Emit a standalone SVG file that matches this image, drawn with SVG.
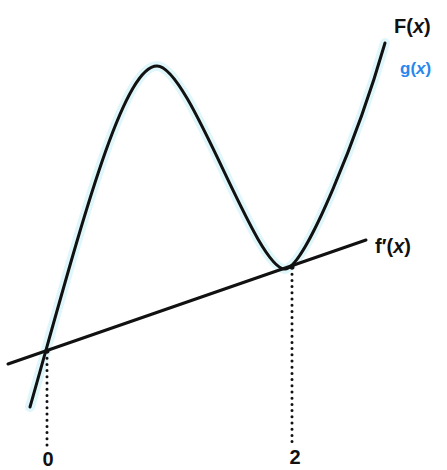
<svg xmlns="http://www.w3.org/2000/svg" width="447" height="470" viewBox="0 0 447 470">
<style>
.halo{fill:none;stroke:#d4f3fa;stroke-width:10;stroke-linecap:round;stroke-linejoin:round;opacity:0.75}
.curve{fill:none;stroke:#111;stroke-width:3;stroke-linecap:round;stroke-linejoin:round}
.line{fill:none;stroke:#111;stroke-width:3;stroke-linecap:round}
.dots{fill:none;stroke:#111;stroke-width:3;stroke-linecap:round;stroke-dasharray:0 6.2}
.lbl{font-family:"Liberation Sans",Arial,sans-serif;font-weight:bold;fill:#111}
.blue{fill:#2a86ee}
</style>
<rect width="447" height="470" fill="#ffffff"/>
<g id="connectors">
  <path id="g-halo" class="halo" d="M30,407 C80,230 122,66 157,66 C190,66 255,269 285,269 C305,269 360,130 385,43"/>
  <path id="F-curve" class="curve" d="M30,407 C80,230 122,66 157,66 C190,66 255,269 285,269 C305,269 360,130 385,43"/>
  <line id="tangent" class="line" x1="8" y1="364" x2="366" y2="240"/>
  <line id="drop0" class="dots" x1="47" y1="352" x2="47" y2="445"/>
  <line id="drop2" class="dots" x1="292" y1="268" x2="292" y2="442"/>
  <circle cx="47" cy="351" r="2.5" fill="#111"/>
  <circle cx="292" cy="267" r="2.5" fill="#111"/>
</g>
<g id="label-F"><text class="lbl" x="394" y="33" font-size="20">F(<tspan font-style="italic">x</tspan>)</text></g>
<g id="label-g"><text class="lbl blue" x="400" y="74" font-size="17">g(<tspan font-style="italic">x</tspan>)</text></g>
<g id="label-fp"><text class="lbl" x="375" y="253" font-size="20">f′(<tspan font-style="italic">x</tspan>)</text></g>
<g id="label-0"><text class="lbl" x="48" y="466" font-size="20" text-anchor="middle">0</text></g>
<g id="label-2"><text class="lbl" x="295" y="464" font-size="20" text-anchor="middle">2</text></g>
</svg>
